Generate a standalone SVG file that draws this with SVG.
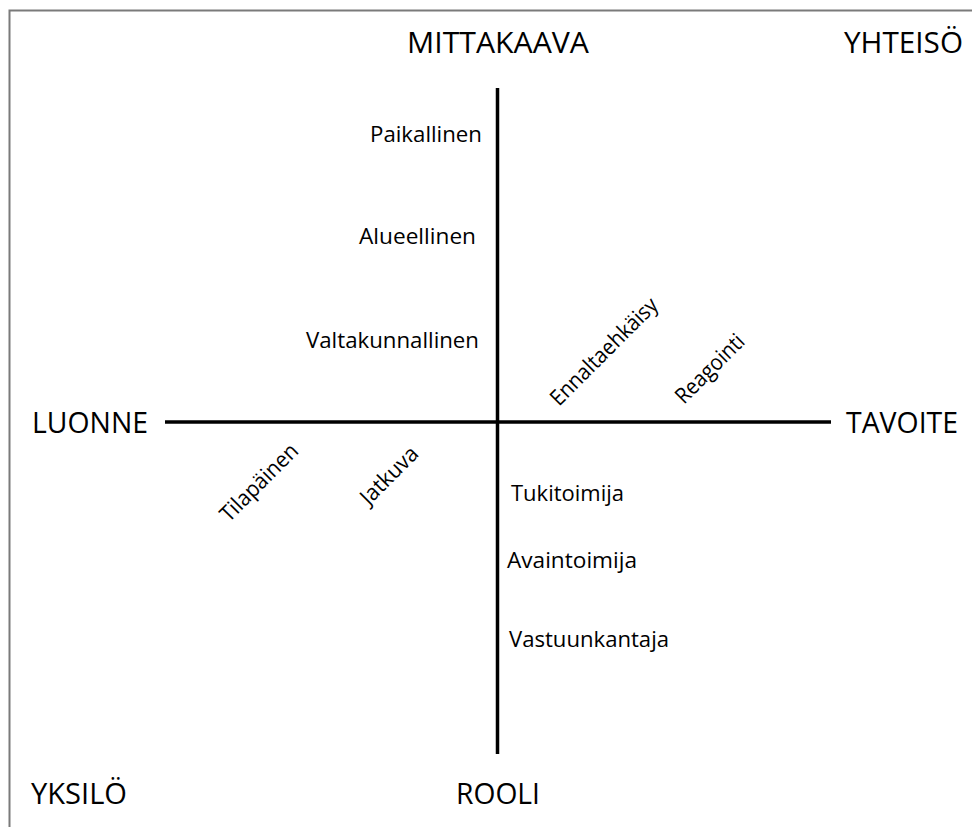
<svg xmlns="http://www.w3.org/2000/svg" width="972" height="827" viewBox="0 0 972 827">
  <style>
    .big { font-family: "Open Sans", "Liberation Sans", sans-serif; font-size: 29px; fill: #000; }
    .small { font-family: "Open Sans", "Liberation Sans", sans-serif; font-size: 22px; fill: #000; }
    .axis { stroke: #000; stroke-width: 3.5; fill: none; }
    .frame { stroke: #7a7a7a; stroke-width: 2; fill: none; }
  </style>
  <rect x="0" y="0" width="972" height="827" fill="#fff"/>
  <path class="frame" d="M9.5,830 V10.5 H975"/>

  <g id="connectors">
    <line class="axis" x1="497.5" y1="88" x2="497.5" y2="754"/>
    <line class="axis" x1="165" y1="422" x2="831" y2="422"/>
  </g>

  <g id="mittakaava"><text class="big" x="407" y="53" textLength="182" lengthAdjust="spacingAndGlyphs">MITTAKAAVA</text></g>
  <g id="yhteiso"><text class="big" x="844" y="53" textLength="119" lengthAdjust="spacingAndGlyphs">YHTEISÖ</text></g>
  <g id="luonne"><text class="big" x="32" y="433" textLength="116" lengthAdjust="spacingAndGlyphs">LUONNE</text></g>
  <g id="tavoite"><text class="big" x="846" y="433" textLength="112" lengthAdjust="spacingAndGlyphs">TAVOITE</text></g>
  <g id="rooli"><text class="big" x="456" y="804" textLength="84" lengthAdjust="spacingAndGlyphs">ROOLI</text></g>
  <g id="yksilo"><text class="big" x="31" y="804" textLength="96" lengthAdjust="spacingAndGlyphs">YKSILÖ</text></g>

  <g id="paikallinen"><text class="small" x="370" y="142" textLength="112" lengthAdjust="spacingAndGlyphs">Paikallinen</text></g>
  <g id="alueellinen"><text class="small" x="359" y="244" textLength="117" lengthAdjust="spacingAndGlyphs">Alueellinen</text></g>
  <g id="valtakunnallinen"><text class="small" x="306" y="348" textLength="173" lengthAdjust="spacingAndGlyphs">Valtakunnallinen</text></g>

  <g id="tukitoimija"><text class="small" x="511" y="501" textLength="113" lengthAdjust="spacingAndGlyphs">Tukitoimija</text></g>
  <g id="avaintoimija"><text class="small" x="507" y="568" textLength="130" lengthAdjust="spacingAndGlyphs">Avaintoimija</text></g>
  <g id="vastuunkantaja"><text class="small" x="509" y="647" textLength="160" lengthAdjust="spacingAndGlyphs">Vastuunkantaja</text></g>

  <g id="ennaltaehkaisy"><text class="small" transform="translate(559,407) rotate(-45)" x="0" y="0" textLength="142" lengthAdjust="spacingAndGlyphs">Ennaltaehkäisy</text></g>
  <g id="reagointi"><text class="small" transform="translate(684,405) rotate(-45)" x="0" y="0" textLength="88" lengthAdjust="spacingAndGlyphs">Reagointi</text></g>
  <g id="tilapainen"><text class="small" transform="translate(229,523) rotate(-45)" x="0" y="0" textLength="100" lengthAdjust="spacingAndGlyphs">Tilapäinen</text></g>
  <g id="jatkuva"><text class="small" transform="translate(369,506) rotate(-45)" x="0" y="0" textLength="72" lengthAdjust="spacingAndGlyphs">Jatkuva</text></g>
</svg>
